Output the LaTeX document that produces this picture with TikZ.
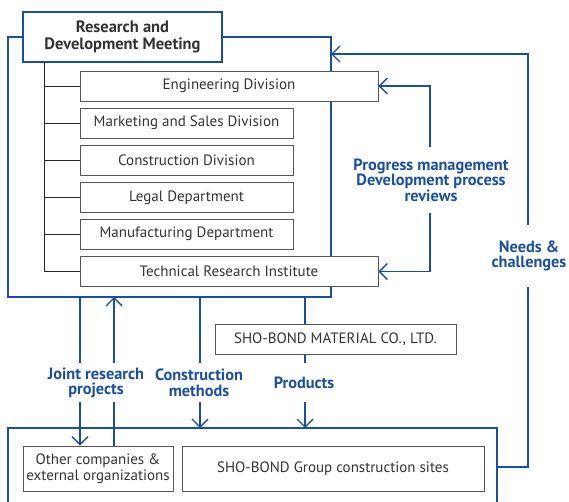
\documentclass[tikz,border=0pt]{standalone}
\usepackage{fontspec}
\setmainfont{PT Sans}
\usetikzlibrary{arrows.meta}
\definecolor{rblue}{HTML}{1A4FA0}
\definecolor{rtext}{HTML}{333333}
\definecolor{rgray}{HTML}{555555}
\begin{document}
\begin{tikzpicture}[x=1pt,y=-1pt,
  unitbox/.style={draw=rgray,line width=0.9pt,fill=white,minimum height=30pt,inner sep=0pt,text=rtext,font=\fontsize{15}{15.5}\selectfont},
  blueline/.style={draw=rblue,line width=1.3pt},
  arr/.style={blueline,-{Straight Barb[length=8pt,width=16pt,line width=1.3pt]}},
  lbl/.style={text=rblue,font=\bfseries\fontsize{16.3}{15.5}\selectfont,align=center,inner sep=0pt},
  treeline/.style={draw=black!85,line width=0.8pt}]
\useasboundingbox (0,0) rectangle (569,502);
% outer frame of the top group
\draw[blueline] (23,37) -- (8,37) -- (8,297) -- (331,297) -- (331,37) -- (222,37);
% header
\node[draw=rblue,line width=2.2pt,fill=white,minimum width=199pt,minimum height=50pt,inner sep=0pt,align=center,text=rtext,font=\bfseries\fontsize{16.5}{17}\selectfont] (rdm) at (122.5,37) {Research and\\Development Meeting};
% divisions
\node[unitbox,minimum width=298pt] (eng) at (229,86) {Engineering Division};
\node[unitbox,minimum width=213pt] (mkt) at (186.5,123) {Marketing and Sales Division};
\node[unitbox,minimum width=213pt] (con) at (186.5,160.5) {Construction Division};
\node[unitbox,minimum width=213pt] (legal) at (186.5,197.5) {Legal Department};
\node[unitbox,minimum width=213pt] (manu) at (186.5,234) {Manufacturing Department};
\node[unitbox,minimum width=298pt] (tri) at (229,271.5) {Technical Research Institute};
% tree
\coordinate (trunk) at (44,62);
\draw[treeline] (trunk) |- (tri.west);
\foreach \b in {eng,mkt,con,legal,manu}{\draw[treeline] (\b.west -| trunk) -- (\b.west);}
% progress management
\node[lbl] (pm) at (431,180) {Progress management\\Development process\\reviews};
\coordinate (pmtop) at (430,147);
\coordinate (pmbot) at (430,213);
\draw[arr] (pmtop) |- (eng.east);
\draw[arr] (pmbot) |- (tri.east);
% bottom group
\draw[blueline] (8,510) -- (8,428) -- (497,428) -- (497,510);
\node[unitbox,minimum width=150pt,minimum height=45pt,align=center] (other) at (98,468.5) {Other companies \&\\external organizations};
\node[unitbox,minimum width=302pt,minimum height=45pt] (sites) at (333,468.5) {SHO-BOND Group construction sites};
\node[unitbox,minimum width=241pt] (mat) at (335.5,339) {SHO-BOND MATERIAL CO., LTD.};
% needs & challenges
\node[lbl] (needs) at (529,256) {Needs \&\\challenges};
\coordinate (nbr) at (497,467);
\coordinate (nlow) at (528,287);
\coordinate (nup) at (528,225);
\coordinate (ntop) at (528,54);
\coordinate (ntip) at (331,54);
\draw[blueline] (nbr) -| (nlow);
\draw[arr] (nup) -- (ntop) -- (ntip);
% joint research
\node[lbl] (joint) at (96,383) {Joint research\\projects};
\draw[blueline] (80,297) -- (80,363);
\draw[arr] (80,402) -- (other.north -| 80,0);
\draw[blueline] (other.north -| 114,0) -- (114,402);
\draw[arr] (114,363) -- (114,297);
% construction methods
\node[lbl] (cm) at (199,383) {Construction\\methods};
\draw[blueline] (200,297) -- (200,363);
\draw[arr] (200,402) -- (200,428);
% products
\node[lbl] (prod) at (304,383) {Products};
\draw[blueline] (305,297) -- (mat.north -| 305,0);
\draw[blueline] (mat.south -| 305,0) -- (305,363);
\draw[arr] (305,402) -- (305,428);
\end{tikzpicture}
\end{document}
